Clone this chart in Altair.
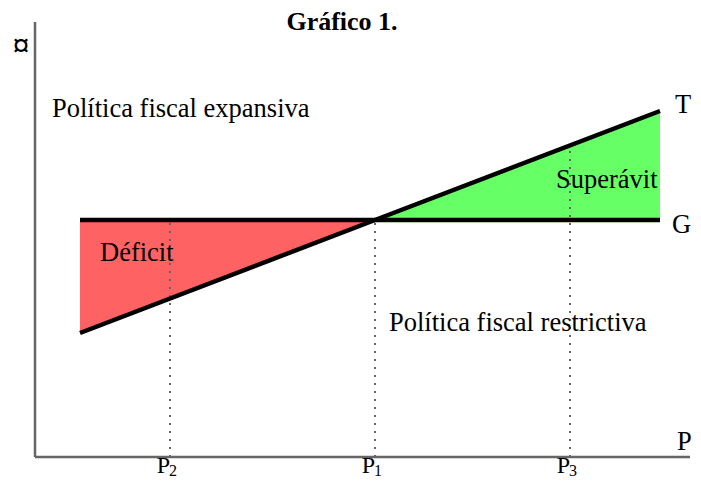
import altair as alt
import pandas as pd

# ---- data (conceptual units: x = price P, y = money) ----
p_names = ["P", "P", "P"]
p_subs = ["2", "1", "3"]
p_values = [135, 340, 535]          # P2, P1, P3
p_tops = [237, 237, 310]            # top of each dotted guide (G or T)

x_ends = [45, 625]                  # start / end of the G and T lines
g_level = 237                       # government spending G (flat)
t_values = [124, 346]               # tax revenue T at x_ends
t_cross = 237                       # T at P1 equals G

region_names = ["Déficit", "Déficit", "Superávit", "Superávit"]
region_x = [45, 340, 340, 625]
region_t = [124, 237, 237, 346]

axis_x_end = 655
axis_y_end = 435

FONT = "Liberation Serif"

X = alt.Scale(domain=[-27, 658], nice=False, zero=False)
Y = alt.Scale(domain=[-19, 449], nice=False, zero=False)

areas = pd.DataFrame({"region": region_names, "x": region_x, "t": region_t, "g": [g_level] * 4})
area = alt.Chart(areas).mark_area(opacity=1).encode(
    x=alt.X("x:Q", scale=X, axis=None),
    y=alt.Y("t:Q", scale=Y, axis=None),
    y2="g:Q",
    color=alt.Color("region:N", scale=alt.Scale(domain=["Déficit", "Superávit"],
                                                range=["#ff6262", "#66ff66"]), legend=None),
)

guides = pd.DataFrame({"p": p_values, "top": p_tops, "bottom": [0, 0, 0]})
dotted = alt.Chart(guides).mark_rule(color="#666666", strokeWidth=2, strokeDash=[2, 6]).encode(
    x=alt.X("p:Q", scale=X), y=alt.Y("bottom:Q", scale=Y), y2="top:Q"
)

lines_df = pd.DataFrame({
    "series": ["G", "G", "T", "T", "T"],
    "x": [x_ends[0], x_ends[1], x_ends[0], p_values[1], x_ends[1]],
    "y": [g_level, g_level, t_values[0], t_cross, t_values[1]],
})
lines = alt.Chart(lines_df).mark_line(color="black", strokeWidth=4.5, strokeCap="butt").encode(
    x=alt.X("x:Q", scale=X), y=alt.Y("y:Q", scale=Y), detail="series:N"
)

axes_df = pd.DataFrame({"x": [0, 0], "x2": [0, axis_x_end], "y": [0, 0], "y2": [axis_y_end, 0]})
axes = alt.Chart(axes_df).mark_rule(color="#666666", strokeWidth=2.5).encode(
    x=alt.X("x:Q", scale=X), x2="x2:Q", y=alt.Y("y:Q", scale=Y), y2="y2:Q"
)

ann = pd.DataFrame([
    {"text": "Política fiscal expansiva", "x": 17, "y": 340},
    {"text": "Déficit", "x": 65, "y": 196},
    {"text": "Superávit", "x": 521, "y": 269},
    {"text": "Política fiscal restrictiva", "x": 354, "y": 126},
    {"text": "T", "x": 640, "y": 344},
    {"text": "G", "x": 637, "y": 224},
    {"text": "P", "x": 642, "y": 7},
])
texts_l = alt.Chart(ann).mark_text(
    font=FONT, baseline="alphabetic", align="left", color="black", fontSize=26.5
).encode(x=alt.X("x:Q", scale=X), y=alt.Y("y:Q", scale=Y), text="text:N")

cur_df = pd.DataFrame({"text": ["¤"], "x": [-14], "y": [400]})
currency = alt.Chart(cur_df).mark_text(
    font=FONT, baseline="alphabetic", align="center", color="black", fontSize=33, fontWeight="bold"
).encode(x=alt.X("x:Q", scale=X), y=alt.Y("y:Q", scale=Y), text="text:N")

ticks_df = pd.DataFrame({"p": p_values, "name": p_names, "sub": p_subs, "y": [-16] * 3})
tick_p = alt.Chart(ticks_df).mark_text(
    font=FONT, baseline="alphabetic", align="right", fontSize=24, color="black", dx=0
).encode(x=alt.X("p:Q", scale=X), y=alt.Y("y:Q", scale=Y), text="name:N")
tick_s = alt.Chart(ticks_df).mark_text(
    font=FONT, baseline="alphabetic", align="left", fontSize=16, color="black", dx=-1, dy=2.5
).encode(x=alt.X("p:Q", scale=X), y=alt.Y("y:Q", scale=Y), text="sub:N")

title_df = pd.DataFrame({"text": ["Gráfico 1."], "x": [307], "y": [427]})
title = alt.Chart(title_df).mark_text(
    font=FONT, baseline="alphabetic", align="center", fontSize=26, fontWeight="bold", color="black"
).encode(x=alt.X("x:Q", scale=X), y=alt.Y("y:Q", scale=Y), text="text:N")

chart = alt.layer(area, dotted, lines, axes, texts_l, currency, tick_p, tick_s, title).properties(
    width=685, height=468, padding=0, autosize=alt.AutoSizeParams(type="none"),
    background="white",
).configure_view(stroke=None)

chart.save("out.html", embed_options={"renderer": "svg", "actions": False})
